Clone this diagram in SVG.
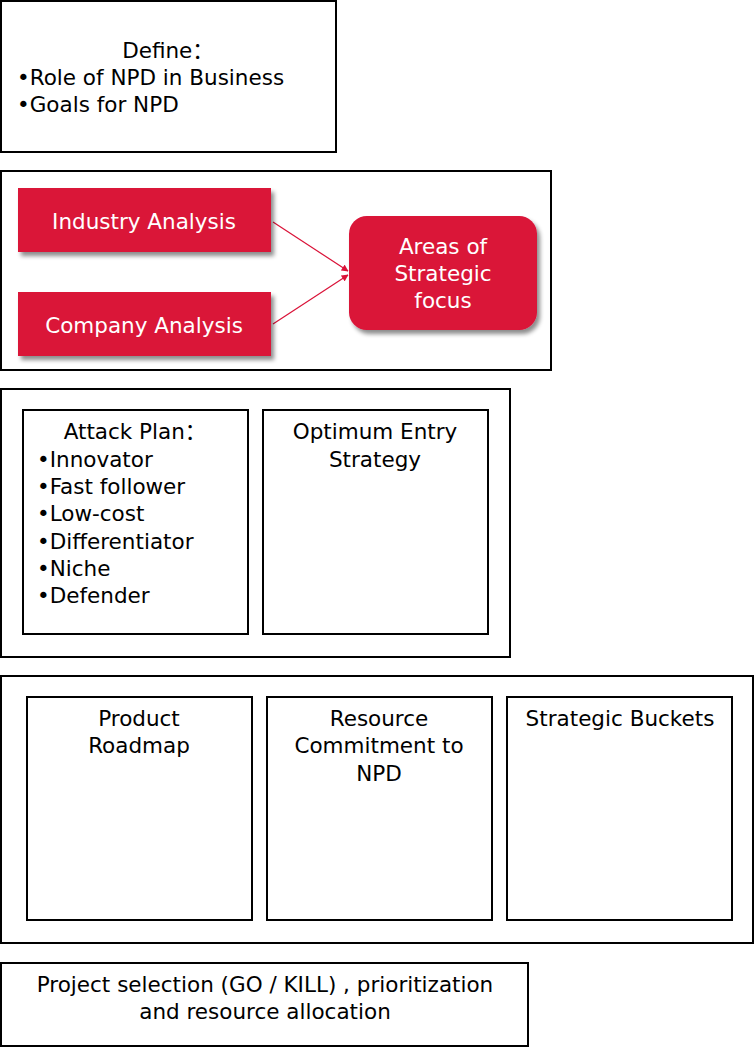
<svg xmlns="http://www.w3.org/2000/svg" width="754" height="1048" viewBox="0 0 754 1048">
<style>
.box{fill:#fff;stroke:#000;stroke-width:2}
.red{fill:#DA1238}
.t{font-family:"DejaVu Sans","Noto Sans","Noto Sans CJK SC",sans-serif;font-size:21.5px;fill:#000}
.w{fill:#fff}
.c{text-anchor:middle}
.con{stroke:#DA1238;stroke-width:1.2;fill:none}
</style>
<defs>
<filter id="sh" x="-10%" y="-10%" width="130%" height="140%">
<feGaussianBlur in="SourceAlpha" stdDeviation="2"/>
<feOffset dx="3" dy="4" result="b"/>
<feFlood flood-color="#000" flood-opacity="0.45"/>
<feComposite in2="b" operator="in"/>
<feMerge><feMergeNode/><feMergeNode in="SourceGraphic"/></feMerge>
</filter>
<marker id="ah" viewBox="0 0 10 10" refX="9" refY="5" markerWidth="7" markerHeight="7" markerUnits="userSpaceOnUse" orient="auto">
<path d="M0,0 L10,5 L0,10 z" fill="#DA1238"/>
</marker>
</defs>

<g id="define">
<rect class="box" x="1" y="1" width="335" height="151"/>
<text class="t c" x="168" y="58">Define：</text>
<text class="t" x="17" y="85">•Role of NPD in Business</text>
<text class="t" x="17" y="112">•Goals for NPD</text>
</g>

<g id="analysis-frame">
<rect class="box" x="1" y="171" width="550" height="199"/>
</g>

<g id="connectors">
<line class="con" x1="273" y1="222" x2="348" y2="271" marker-end="url(#ah)"/>
<line class="con" x1="273" y1="324" x2="348" y2="275" marker-end="url(#ah)"/>
</g>

<g id="industry">
<rect class="red" x="18" y="188" width="253" height="64" filter="url(#sh)"/>
<text class="t w c" x="144" y="229">Industry Analysis</text>
</g>
<g id="company">
<rect class="red" x="18" y="292" width="253" height="64" filter="url(#sh)"/>
<text class="t w c" x="144" y="333">Company Analysis</text>
</g>
<g id="areas">
<rect class="red" x="349" y="216" width="188" height="114" rx="18" filter="url(#sh)"/>
<text class="t w c" x="443" y="254">Areas of</text>
<text class="t w c" x="443" y="281">Strategic</text>
<text class="t w c" x="443" y="308">focus</text>
</g>

<g id="strategy-frame">
<rect class="box" x="1" y="389" width="509" height="268"/>
</g>
<g id="attack">
<rect class="box" x="23" y="410" width="225" height="224"/>
<text class="t c" x="135" y="439">Attack Plan：</text>
<text class="t" x="37" y="467">•Innovator</text>
<text class="t" x="37" y="494">•Fast follower</text>
<text class="t" x="37" y="521">•Low-cost</text>
<text class="t" x="37" y="549">•Differentiator</text>
<text class="t" x="37" y="576">•Niche</text>
<text class="t" x="37" y="603">•Defender</text>
</g>
<g id="entry">
<rect class="box" x="263" y="410" width="225" height="224"/>
<text class="t c" x="375" y="439">Optimum Entry</text>
<text class="t c" x="375" y="467">Strategy</text>
</g>

<g id="portfolio-frame">
<rect class="box" x="1" y="676" width="752" height="267"/>
</g>
<g id="roadmap">
<rect class="box" x="27" y="697" width="225" height="223"/>
<text class="t c" x="139" y="726">Product</text>
<text class="t c" x="139" y="753">Roadmap</text>
</g>
<g id="resource">
<rect class="box" x="267" y="697" width="225" height="223"/>
<text class="t c" x="379" y="726">Resource</text>
<text class="t c" x="379" y="753">Commitment to</text>
<text class="t c" x="379" y="781">NPD</text>
</g>
<g id="buckets">
<rect class="box" x="507" y="697" width="225" height="223"/>
<text class="t c" x="620" y="726">Strategic Buckets</text>
</g>

<g id="selection">
<rect class="box" x="1" y="963" width="527" height="83"/>
<text class="t c" x="265" y="992">Project selection (GO / KILL) , prioritization</text>
<text class="t c" x="265" y="1019">and resource allocation</text>
</g>
</svg>
